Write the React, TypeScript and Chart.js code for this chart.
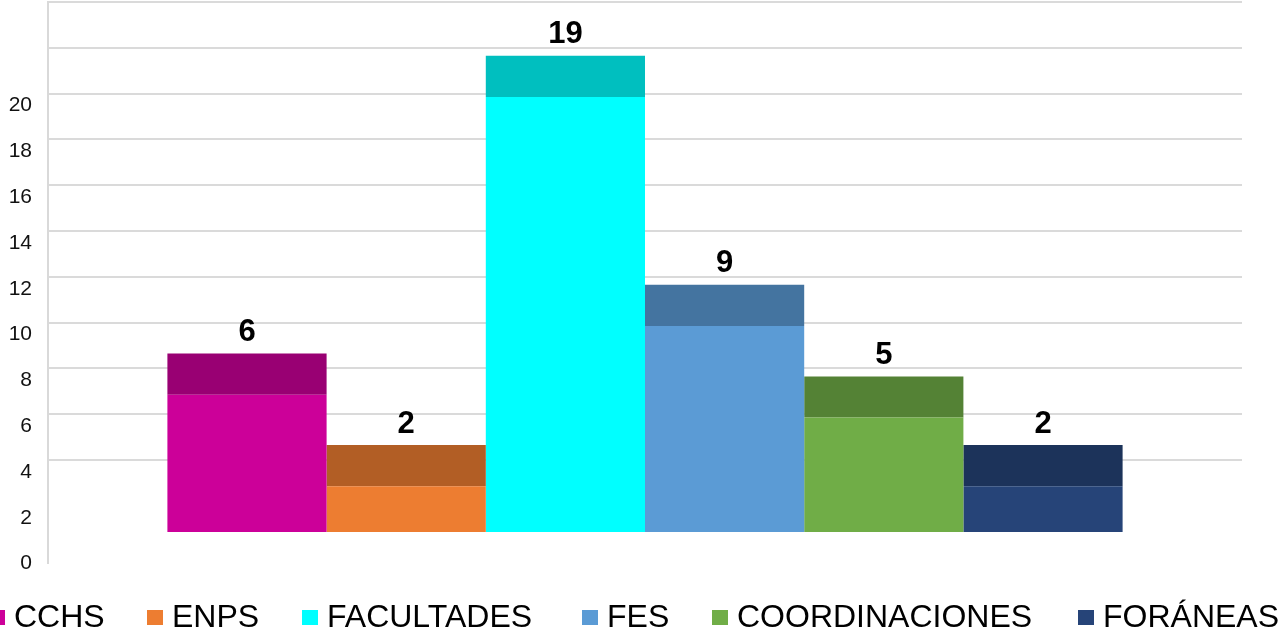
import React, { useEffect, useRef } from 'react';
import { Chart, registerables } from 'chart.js';

Chart.register(...registerables);

// ---- data ----
const CATEGORIES = ['CCHS', 'ENPS', 'FACULTADES', 'FES', 'COORDINACIONES', 'FORÁNEAS'];
const VALUES = [6, 2, 19, 9, 5, 2];
const FRONT_COLORS = ['#CC0099', '#ED7D31', '#00FFFF', '#5B9BD5', '#70AD47', '#264478'];
const TOP_COLORS = ['#990073', '#B25E25', '#00BFBF', '#4474A0', '#548235', '#1C335A'];
const Y_TICKS = [0, 2, 4, 6, 8, 10, 12, 14, 16, 18, 20, 22, 24];
const Y_TICK_LABELS = ['0', '2', '4', '6', '8', '10', '12', '14', '16', '18', '20', '', ''];
const HIDDEN_GRID_VALUES = [0, 2];

// pseudo-3D geometry, in value units
const FLOOR_OFFSET = 0.85;
const TOP_FACE_DEPTH = 1.8;

// legend layout (pixels)
const LEGEND_MARKER_LEFT = [-11, 147, 302, 582, 712, 1078];

const FONT = '"Liberation Sans", Arial, Helvetica, sans-serif';

const valueLabels = {
  id: 'valueLabels',
  afterDatasetsDraw(chart: any) {
    const ctx = chart.ctx;
    ctx.save();
    ctx.font = `bold 31px ${FONT}`;
    ctx.fillStyle = '#000';
    ctx.textAlign = 'center';
    ctx.textBaseline = 'middle';
    VALUES.forEach((v, i) => {
      const meta = chart.getDatasetMeta(i * 3 + 2);
      const bar = meta.data[0];
      if (bar) ctx.fillText(String(v), bar.x, bar.y - 21);
    });
    ctx.restore();
  },
};

export default function App() {
  const canvasRef = useRef<HTMLCanvasElement | null>(null);

  useEffect(() => {
    const canvas = canvasRef.current;
    if (!canvas) return;

    const datasets: any[] = [];
    CATEGORIES.forEach((name, i) => {
      const stack = 's' + i;
      datasets.push({
        label: name + '_floor',
        data: [FLOOR_OFFSET],
        backgroundColor: 'rgba(0,0,0,0)',
        borderWidth: 0,
        stack,
      });
      datasets.push({
        label: name,
        data: [VALUES[i]],
        backgroundColor: FRONT_COLORS[i],
        borderWidth: 0,
        stack,
      });
      datasets.push({
        label: name + '_top',
        data: [TOP_FACE_DEPTH],
        backgroundColor: TOP_COLORS[i],
        borderWidth: 0,
        stack,
      });
    });

    const chart = new Chart(canvas, {
      type: 'bar',
      data: { labels: [''], datasets },
      options: {
        animation: false,
        responsive: false,
        maintainAspectRatio: false,
        datasets: { bar: { categoryPercentage: 0.8, barPercentage: 1.0 } },
        layout: { padding: { top: 2, right: 39, bottom: 71, left: 0 } },
        plugins: {
          legend: { display: false },
          tooltip: { enabled: false },
        },
        scales: {
          x: { display: false, grid: { display: false } },
          y: {
            stacked: true,
            min: -0.5,
            max: 24,
            afterBuildTicks: (axis: any) => {
              axis.ticks = Y_TICKS.map((v) => ({ value: v }));
            },
            afterFit: (scale: any) => {
              scale.width = 48;
              scale.paddingTop = 0;
              scale.paddingBottom = 0;
            },
            border: { display: true, color: '#d9d9d9', width: 2 },
            grid: {
              drawTicks: false,
              lineWidth: 2,
              color: (ctx: any) =>
                ctx.tick && HIDDEN_GRID_VALUES.includes(ctx.tick.value) ? 'rgba(0,0,0,0)' : '#dadada',
            },
            ticks: {
              padding: 16,
              labelOffset: 12,
              color: '#111',
              font: { family: FONT, size: 21 },
              callback: (value: any) => {
                const idx = Y_TICKS.indexOf(Number(value));
                return idx >= 0 ? Y_TICK_LABELS[idx] : '';
              },
            },
          },
        },
      },
      plugins: [valueLabels],
    });

    return () => chart.destroy();
  }, []);

  return (
    <div
      style={{
        position: 'fixed',
        left: 0,
        top: 0,
        width: 1281,
        height: 634,
        overflow: 'hidden',
        background: '#fff',
      }}
    >
      <canvas
        ref={canvasRef}
        width={1281}
        height={634}
        style={{ position: 'absolute', left: 0, top: 0, width: 1281, height: 634 }}
      />
      <div style={{ position: 'absolute', left: 0, top: 600, width: 1281, height: 34 }}>
        {CATEGORIES.map((name, i) => (
          <div
            key={name}
            style={{
              position: 'absolute',
              left: LEGEND_MARKER_LEFT[i],
              top: 0,
              display: 'flex',
              alignItems: 'flex-start',
              whiteSpace: 'nowrap',
            }}
          >
            <span
              style={{
                display: 'inline-block',
                width: 16,
                height: 15,
                marginTop: 10,
                marginRight: 9,
                background: FRONT_COLORS[i],
              }}
            />
            <span
              style={{
                fontFamily: FONT,
                fontSize: 32,
                lineHeight: '32px',
                color: '#000',
              }}
            >
              {name}
            </span>
          </div>
        ))}
      </div>
    </div>
  );
}
